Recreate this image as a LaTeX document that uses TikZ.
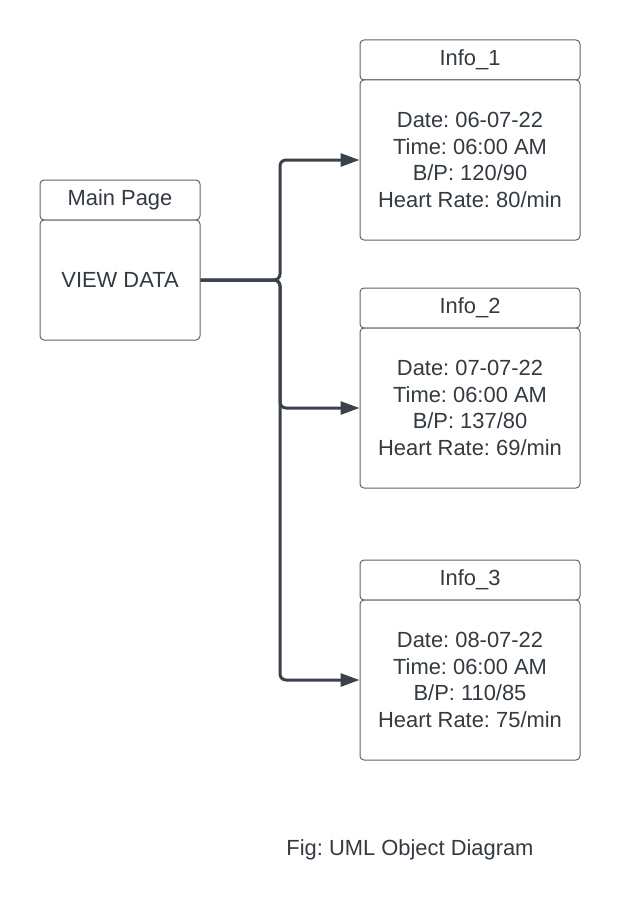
\documentclass[tikz,border=0pt]{standalone}
\usepackage{fontspec}
\setmainfont{Liberation Sans}
\frenchspacing
\usetikzlibrary{arrows.meta}
\definecolor{txt}{HTML}{333A42}
\definecolor{edge}{HTML}{5F6368}
\definecolor{conncol}{HTML}{3A414A}
\tikzset{
  box/.style={draw=edge, line width=1pt, rounded corners=4pt, fill=white, text=txt,
    align=center, inner sep=0pt, font=\fontsize{21.9}{26.7}\selectfont},
  hdr/.style={box, minimum height=40pt},
  conn/.style={draw=conncol, line width=3pt, rounded corners=6pt,
    -{Triangle[length=19pt,width=13pt]}},
}
\begin{document}
\begin{tikzpicture}[x=1pt,y=-1pt]
\useasboundingbox (0,0) rectangle (620,923);
% main page
\node[hdr, minimum width=160pt] (mh) at (120,200) {Main Page};
\node[box, minimum width=160pt, minimum height=120pt] (view) at (120,280) {VIEW DATA};
% info boxes
\node[hdr, minimum width=220pt] (h1) at (470,60) {Info\_1};
\node[box, minimum width=220pt, minimum height=160pt] (b1) at (470,160)
  {Date: 06-07-22\\Time: 06:00 AM\\B/P: 120/90\\Heart Rate: 80/min};
\node[hdr, minimum width=220pt] (h2) at (470,308) {Info\_2};
\node[box, minimum width=220pt, minimum height=160pt] (b2) at (470,408)
  {Date: 07-07-22\\Time: 06:00 AM\\B/P: 137/80\\Heart Rate: 69/min};
\node[hdr, minimum width=220pt] (h3) at (470,580) {Info\_3};
\node[box, minimum width=220pt, minimum height=160pt] (b3) at (470,680)
  {Date: 08-07-22\\Time: 06:00 AM\\B/P: 110/85\\Heart Rate: 75/min};
% caption
\node[text=txt, font=\fontsize{21.9}{26.7}\selectfont, inner sep=0pt] (cap) at (410,850) {Fig: UML Object Diagram};
% connectors
\coordinate (j) at (280,280);
\draw[conn] (view.east) -- (j) |- (b1.west);
\draw[conn] (view.east) -- (j) |- (b2.west);
\draw[conn] (view.east) -- (j) |- (b3.west);
\end{tikzpicture}
\end{document}
